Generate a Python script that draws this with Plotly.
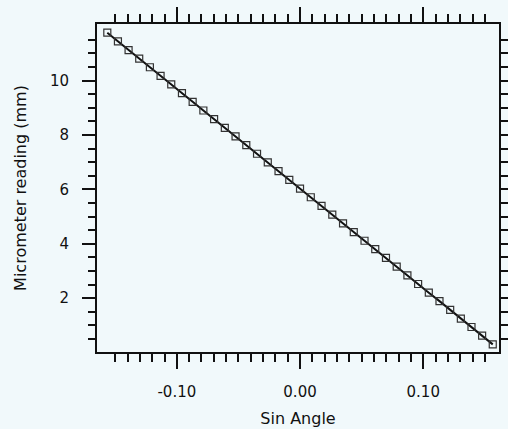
import plotly.graph_objects as go

# Data: sin(angle) vs micrometer reading (mm)
sin_angle = [-0.15643, -0.14781, -0.13917, -0.13053, -0.12187, -0.11320, -0.10453,
             -0.09585, -0.08716, -0.07846, -0.06976, -0.06105, -0.05234, -0.04362,
             -0.03490, -0.02618, -0.01745, -0.00873, 0.00000, 0.00873, 0.01745,
             0.02618, 0.03490, 0.04362, 0.05234, 0.06105, 0.06976, 0.07846,
             0.08716, 0.09585, 0.10453, 0.11320, 0.12187, 0.13053, 0.13917,
             0.14781, 0.15643]
reading_mm = [11.76, 11.44, 11.12, 10.81, 10.49, 10.17, 9.86, 9.54, 9.22, 8.90,
              8.58, 8.26, 7.95, 7.63, 7.31, 6.99, 6.67, 6.35, 6.03, 5.71, 5.39,
              5.07, 4.75, 4.43, 4.11, 3.80, 3.48, 3.16, 2.84, 2.52, 2.20, 1.89,
              1.57, 1.25, 0.94, 0.62, 0.30]
x_major = [-0.10, 0.00, 0.10]
x_labels = ["-0.10", "0.00", "0.10"]
y_major = [2, 4, 6, 8, 10]
y_labels = ["2", "4", "6", "8", "10"]

x_minor = [round(-0.15 + 0.01 * i, 2) for i in range(31)]
y_minor = [0.5 * i for i in range(1, 24)]

xr = [-0.1648, 0.1615]
yr = [0.02, 12.08]
bg = "#f1f9fb"
tick_font = dict(family="DejaVu Sans, sans-serif", size=15, color="#111")
title_font = dict(family="DejaVu Sans, sans-serif", size=16, color="#111")

fig = go.Figure()
fig.add_trace(go.Scatter(
    x=sin_angle, y=reading_mm, mode="lines+markers",
    line=dict(color="#111", width=2),
    marker=dict(symbol="square-open", size=7, color="#333", line=dict(width=1.2)),
    showlegend=False))

tick_common = dict(ticks="outside", showline=True, linecolor="#111", linewidth=2,
                   tickcolor="#111", tickwidth=2, showgrid=False, zeroline=False)
minor_x = dict(tickvals=x_minor, ticklen=8, tickwidth=2, tickcolor="#111", ticks="outside")
minor_y = dict(tickvals=y_minor, ticklen=7, tickwidth=2, tickcolor="#111", ticks="outside")

fig.update_layout(
    width=508, height=429,
    margin=dict(l=97, r=9, t=22, b=77),
    paper_bgcolor=bg, plot_bgcolor=bg,
    font=tick_font,
    # labelled axes (major ticks only)
    xaxis=dict(range=xr, tickvals=x_major, ticktext=x_labels, ticklen=15,
               tickfont=tick_font, ticklabelstandoff=10, automargin=False,
               title=dict(text="Sin Angle", standoff=13, font=title_font),
               **tick_common),
    yaxis=dict(range=yr, tickvals=y_major, ticktext=y_labels, ticklen=13,
               tickfont=tick_font, ticklabelstandoff=10, automargin=False,
               title=dict(text="Micrometer reading (mm)", standoff=19, font=title_font),
               **tick_common),
    # top and right tick axes
    xaxis2=dict(range=xr, overlaying="x", side="top", tickvals=x_major, showticklabels=False,
                ticklen=15, minor=minor_x, **tick_common),
    yaxis2=dict(range=yr, overlaying="y", side="right", tickvals=y_minor, showticklabels=False,
                ticklen=8, automargin=False, **tick_common),
    # bottom and left minor tick axes
    xaxis3=dict(range=xr, overlaying="x", side="bottom", tickvals=x_major, showticklabels=False,
                ticklen=15, minor=minor_x, **tick_common),
    yaxis3=dict(range=yr, overlaying="y", side="left", tickvals=y_major, showticklabels=False,
                ticklen=13, minor=minor_y, **tick_common),
)
# invisible traces to activate the secondary axes
for xa, ya in [("x2", "y2"), ("x3", "y3")]:
    fig.add_trace(go.Scatter(x=[sin_angle[0]], y=[reading_mm[0]], xaxis=xa, yaxis=ya,
                             mode="markers", marker=dict(opacity=0), showlegend=False,
                             hoverinfo="skip"))

fig.write_html("out.html")
